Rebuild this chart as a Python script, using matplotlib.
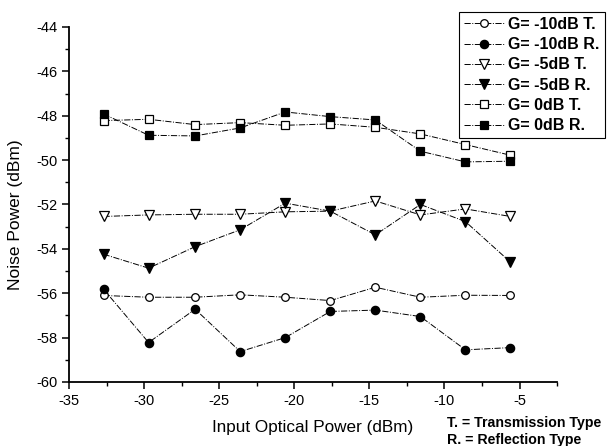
import matplotlib.pyplot as plt

plt.rcParams['font.family'] = ['Liberation Sans', 'DejaVu Sans']
plt.rcParams['axes.unicode_minus'] = False

# input optical power (dBm)
x = [-32.7, -29.7, -26.6, -23.6, -20.6, -17.6, -14.6, -11.6, -8.6, -5.6]

# noise power (dBm)
g10_t = [-56.1, -56.18, -56.18, -56.07, -56.18, -56.33, -55.73, -56.18, -56.09, -56.1]
g10_r = [-55.82, -58.22, -56.72, -58.63, -58.0, -56.82, -56.76, -57.05, -58.55, -58.45]
g5_t = [-52.54, -52.47, -52.44, -52.44, -52.33, -52.3, -51.84, -52.47, -52.2, -52.54]
g5_r = [-54.24, -54.87, -53.9, -53.14, -51.94, -52.3, -53.37, -52.0, -52.77, -54.6]
g0_t = [-48.22, -48.16, -48.4, -48.31, -48.43, -48.37, -48.52, -48.82, -49.3, -49.78]
g0_r = [-47.92, -48.88, -48.91, -48.55, -47.83, -48.04, -48.19, -49.6, -50.08, -50.05]

labels = ['G= -10dB T.', 'G= -10dB R.', 'G= -5dB T.', 'G= -5dB R.', 'G= 0dB T.', 'G= 0dB R.']
series = [g10_t, g10_r, g5_t, g5_r, g0_t, g0_r]
markers = ['o', 'o', 'v', 'v', 's', 's']
fills = ['white', 'black', 'white', 'black', 'white', 'black']
sizes = [5.5, 6, 7, 7.5, 6, 6]

fig = plt.figure(figsize=(6.07, 4.46), dpi=100)
ax = fig.add_axes([0.1137, 0.1435, 0.804, 0.796])

for y, lab, m, fc, ms in zip(series, labels, markers, fills, sizes):
    ax.plot(x, y, color='black', lw=0.7, ls='-.', marker=m, ms=ms,
            mfc=fc, mec='black', mew=0.9, label=lab)

ax.set_xlim(-35, -2.5)
ax.set_ylim(-60, -44)
ax.set_xticks([-35, -30, -25, -20, -15, -10, -5])
ax.set_xticks([-32.5, -27.5, -22.5, -17.5, -12.5, -7.5, -2.5], minor=True)
ax.set_yticks(range(-60, -43, 2))
ax.set_yticks(range(-59, -44, 2), minor=True)
ax.spines['top'].set_visible(False)
ax.spines['right'].set_visible(False)
ax.spines['left'].set_linewidth(1.3)
ax.spines['bottom'].set_linewidth(1.3)
ax.tick_params(which='major', direction='out', length=5, width=1.1, labelsize=10.5)
ax.tick_params(which='minor', direction='out', length=3, width=1.0)

ax.set_xlabel('Input Optical Power (dBm)', fontsize=12.3, labelpad=9)
ax.set_ylabel('Noise Power (dBm)', fontsize=12.5, labelpad=4)
ax.yaxis.set_label_coords(-0.095, 0.47)

leg = fig.legend(loc='upper left', bbox_to_anchor=(0.756, 0.973), frameon=True,
                 fancybox=False, edgecolor='black', framealpha=1,
                 prop={'weight': 'bold', 'size': 11.5}, handlelength=2.5,
                 handletextpad=0.3, labelspacing=0.33, borderpad=0.3,
                 borderaxespad=0)
leg.get_frame().set_linewidth(0.8)

fig.text(0.736, 0.0516, 'T. = Transmission Type', fontsize=10.2,
         fontweight='bold', va='center')
fig.text(0.736, 0.013, 'R. = Reflection Type', fontsize=10.2,
         fontweight='bold', va='center')

fig.savefig('out.png', dpi=100)
